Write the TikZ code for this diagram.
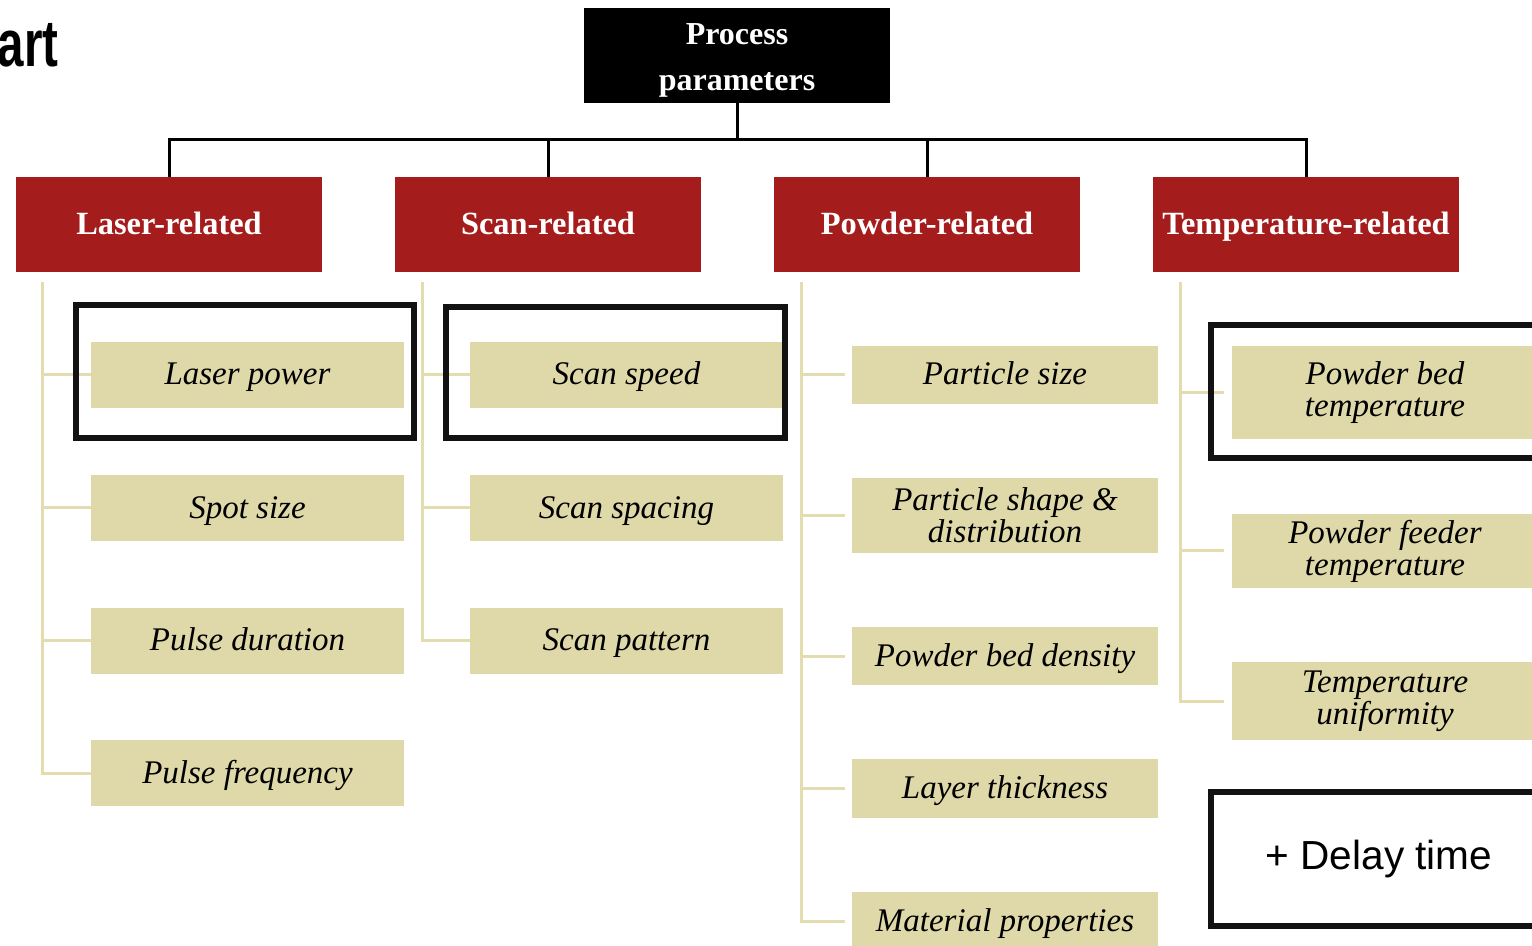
\documentclass[tikz,border=0pt]{standalone}
\usepackage{fontspec}
\setmainfont{Liberation Serif}
\newfontfamily\arialf{Liberation Sans}
\definecolor{hdrred}{HTML}{A51C1C}
\definecolor{itemtan}{HTML}{DFD9A9}
\definecolor{linetan}{HTML}{E2DCAE}
\tikzset{
  top/.style={fill=black, text=white, minimum width=153pt, minimum height=47.5pt, inner sep=0pt, align=center, font=\fontsize{16}{23}\selectfont\bfseries},
  hdr/.style={fill=hdrred, text=white, minimum width=153pt, minimum height=47.5pt, inner sep=0pt, text height=13.5pt, text depth=3pt, font=\fontsize{16.2}{20}\selectfont\bfseries},
  item/.style={fill=itemtan, text=black, minimum width=153pt, inner sep=0pt, align=center, font=\fontsize{16.5}{16}\selectfont\itshape},
  one/.style={text height=13pt, text depth=3pt},
  itemw/.style={item, one, minimum width=156.5pt, minimum height=33pt},
  tree/.style={draw=black, line width=1.5pt},
  tanline/.style={draw=linetan, line width=1.5pt},
  frame/.style={draw=black!93, line width=3pt, fill=none, inner sep=0pt},
}
\begin{document}
\begin{tikzpicture}[x=0.5pt,y=-0.5pt]
\clip (0,0) rectangle (1532,946);
\fill[white] (0,0) rectangle (1532,946);
% title fragment
\node[anchor=east, inner sep=0pt, font=\arialf\fontsize{33}{33}\selectfont\bfseries] (ttl) at (59,45) {\scalebox{0.72}[1]{art}};
% top
\node[top] (pp) at (737,55.5) {\rule{0pt}{15pt}Process\\parameters};
% headers
\node[hdr] (h1) at (169,224.5) {Laser-related};
\node[hdr] (h2) at (548,224.5) {Scan-related};
\node[hdr] (h3) at (927,224.5) {Powder-related};
\node[hdr] (h4) at (1306,224.5) {Temperature-related};
\coordinate (bus) at (737,140);
\foreach \h in {h1,h2,h3,h4}{\draw[tree] (pp.south) -- (bus) -| (\h.north);}
% laser column
\node[itemw] (l1) at (247.5,375) {Laser power};
\node[itemw] (l2) at (247.5,508) {Spot size};
\node[itemw] (l3) at (247.5,640.5) {Pulse duration};
\node[itemw] (l4) at (247.5,773) {Pulse frequency};
% scan column
\node[itemw] (s1) at (626.5,375) {Scan speed};
\node[itemw] (s2) at (626.5,508) {Scan spacing};
\node[itemw] (s3) at (626.5,640.5) {Scan pattern};
% powder column
\node[item, one, minimum height=29pt] (p1) at (1005,375) {Particle size};
\node[item, minimum height=37.5pt] (p2) at (1005,515.5) {Particle shape \&\\distribution};
\node[item, one, minimum height=29pt] (p3) at (1005,656) {Powder bed density};
\node[item, one, minimum height=29.5pt] (p4) at (1005,788.5) {Layer thickness};
\node[item, one, minimum height=29pt] (p5) at (1005,921) {Material properties};
% temperature column
\node[item, minimum height=46.5pt] (t1) at (1385,392.5) {Powder bed\\temperature};
\node[item, minimum height=37pt] (t2) at (1385,551) {Powder feeder\\temperature};
\node[item, minimum height=39pt] (t3) at (1385,701) {Temperature\\uniformity};
% tan connectors
\coordinate (v1) at ([xshift=13.5pt,yshift=-5pt]h1.south west);
\coordinate (v2) at ([xshift=14pt,yshift=-5pt]h2.south west);
\coordinate (v3) at ([xshift=14pt,yshift=-5pt]h3.south west);
\coordinate (v4) at ([xshift=14pt,yshift=-5pt]h4.south west);
\foreach \n in {l1,l2,l3,l4}{\draw[tanline] (v1) |- (\n.west);}
\foreach \n in {s1,s2,s3}{\draw[tanline] (v2) |- (\n.west);}
\foreach \n in {p1,p2,p3,p4,p5}{\draw[tanline, shorten >=3.5pt] (v3) |- (\n.west);}
\foreach \n in {t1,t2,t3}{\draw[tanline, shorten >=4pt] (v4) |- (\n.west);}
% black frames
\node[frame, minimum width=169pt, minimum height=66.5pt] (f1) at (245,371.5) {};
\node[frame, minimum width=169.5pt, minimum height=65.5pt] (f2) at (615.5,372.5) {};
\node[frame, minimum width=167pt, minimum height=66.5pt] (f3) at (1378,391.5) {};
\node[frame, minimum width=168pt, minimum height=67pt, font=\arialf\fontsize{20.3}{24}\selectfont] (dt) at (1379,859) {+ Delay time};
\end{tikzpicture}
\end{document}
